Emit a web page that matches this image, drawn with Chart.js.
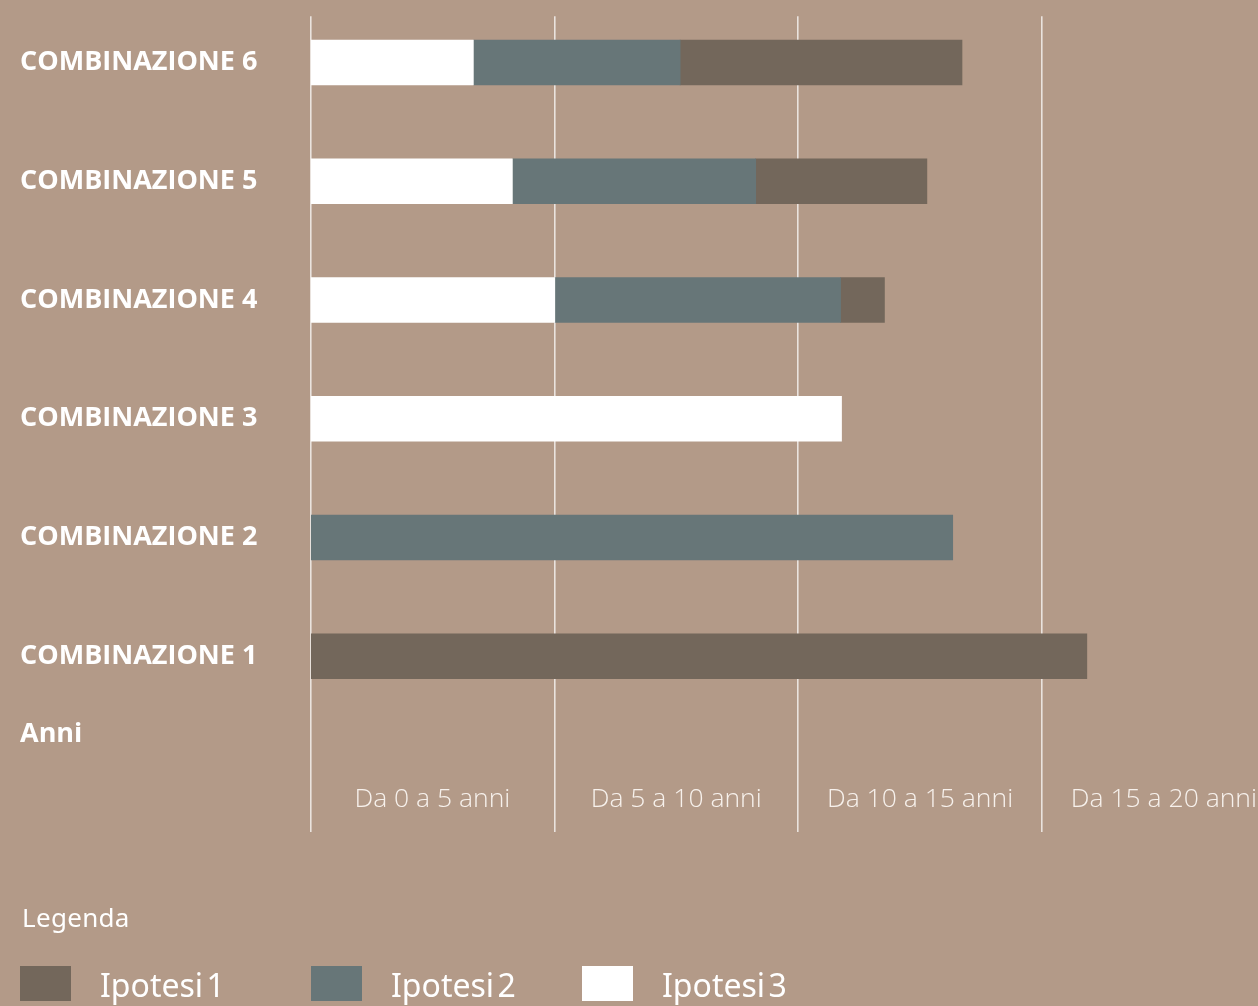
<!DOCTYPE html>
<html>
<head>
<meta charset="utf-8">
<script src="https://cdn.jsdelivr.net/npm/chart.js@4.4.1/dist/chart.umd.min.js"></script>
<style>
  html, body { margin: 0; padding: 0; background: #b39a88; overflow: hidden; }
  #wrap { position: relative; width: 1258px; height: 1006px; }
  #wrap canvas { position: absolute; left: 0; top: 0; }
  .legtitle { position: absolute; left: 22px; top: 899px; color: #ffffff; font-family: 'Noto Sans', sans-serif; font-size: 26px; letter-spacing: 0.3px; }
  .legitem { position: absolute; top: 966px; height: 35px; }
  .legbox { position: absolute; left: 0; top: 0; width: 51px; height: 35px; }
  .legtext { position: absolute; top: -3px; color: #ffffff; font-family: 'Noto Sans', sans-serif; font-size: 32px; white-space: nowrap; word-spacing: -5px; }
</style>
</head>
<body>
<div id="wrap">
  <canvas id="c" width="1258" height="1006"></canvas>
  <div class="legtitle">Legenda</div>
  <div id="legend"></div>
</div>
<script>
// ---- data ----
const categories = ['COMBINAZIONE 6', 'COMBINAZIONE 5', 'COMBINAZIONE 4', 'COMBINAZIONE 3', 'COMBINAZIONE 2', 'COMBINAZIONE 1'];
const categoryPositions = [6, 5, 4, 3, 2, 1];
const axisTitle = 'Anni';
const seriesNames = ['Ipotesi 1', 'Ipotesi 2', 'Ipotesi 3'];
const seriesColors = ['#73675b', '#677678', '#ffffff'];
const ipotesi1 = [5.78, 3.51, 0.90, null, null, 15.92];
const ipotesi2 = [4.24, 4.99, 5.86, null, 13.17, null];
const ipotesi3 = [3.34, 4.14, 5.01, 10.89, null, null];
const gridValues = [0, 5, 10, 15];
const periodCenters = [2.5, 7.5, 12.5, 17.5];
const periodLabels = ['Da 0 a 5 anni', 'Da 5 a 10 anni', 'Da 10 a 15 anni', 'Da 15 a 20 anni'];

// ---- build ----
const seriesValues = [ipotesi1, ipotesi2, ipotesi3];
function points(vals) { return vals.map((v, i) => ({ x: v, y: categoryPositions[i] })); }
// stacking order left to right: Ipotesi 3, Ipotesi 2, Ipotesi 1
const order = [2, 1, 0];
const datasets = order.map(k => ({
  label: seriesNames[k],
  data: points(seriesValues[k]),
  backgroundColor: seriesColors[k],
  borderWidth: 0,
  barThickness: 45
}));

const yTickValues = categoryPositions.concat([0.344]);
const yTickLabels = categories.concat([axisTitle]);

new Chart(document.getElementById('c'), {
  type: 'bar',
  data: { datasets },
  options: {
    indexAxis: 'y',
    responsive: false,
    animation: false,
    layout: { padding: { left: 20, top: 15, right: 0, bottom: 174 } },
    plugins: { legend: { display: false }, tooltip: { enabled: false } },
    scales: {
      x: {
        type: 'linear', stacked: true, min: 0, max: 19.43, position: 'bottom', z: 1, offset: false,
        afterBuildTicks: s => { s.ticks = gridValues.map(v => ({ value: v })); },
        grid: { color: 'rgba(255,255,255,0.72)', lineWidth: 1.6, drawTicks: false },
        border: { display: false },
        ticks: { display: false }
      },
      xl: {
        type: 'linear', axis: 'x', min: 0, max: 19.43, position: { y: -0.068 }, offset: false,
        afterBuildTicks: s => { s.ticks = periodCenters.map(v => ({ value: v })); },
        grid: { display: false, drawTicks: false },
        border: { display: false },
        ticks: {
          color: '#f7f1ec', padding: 0, autoSkip: false, maxRotation: 0,
          font: { family: "'Open Sans', sans-serif", size: 26.5, weight: '300', lineHeight: 1.2 },
          callback: (v, i) => periodLabels[i]
        }
      },
      y: {
        type: 'linear', stacked: true, min: -0.48, max: 6.39, position: 'left', offset: false,
        afterBuildTicks: s => { s.ticks = yTickValues.map(v => ({ value: v })); },
        afterFit: s => { s.width = 290.5; },
        grid: { display: false, drawTicks: false },
        border: { display: false },
        ticks: {
          crossAlign: 'far', color: '#ffffff', padding: 0, autoSkip: false,
          font: { family: "'Open Sans', sans-serif", size: 27, weight: '700' },
          callback: (v, i) => yTickLabels[i]
        }
      }
    }
  }
});

// ---- legend ----
const legendLeft = [20, 311, 582];
const leg = document.getElementById('legend');
seriesNames.forEach((name, i) => {
  const item = document.createElement('div');
  item.className = 'legitem';
  item.style.left = legendLeft[i] + 'px';
  item.innerHTML = '<div class="legbox" style="background:' + seriesColors[i] + '"></div>' +
    '<div class="legtext" style="left:80px">' + name + '</div>';
  leg.appendChild(item);
});
</script>
</body>
</html>
